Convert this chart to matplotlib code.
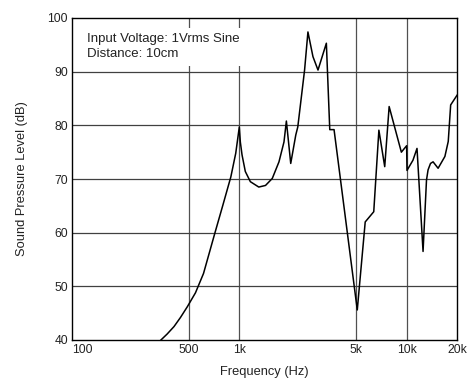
import matplotlib
matplotlib.use("Agg")
import matplotlib.pyplot as plt
import numpy as np

plt.rcParams['font.family'] = ['Liberation Sans', 'DejaVu Sans']

# frequency response
freq = [340, 370, 407, 445, 489, 547, 611, 653, 714, 797, 890, 952, 1000,
        1014, 1038, 1086, 1164, 1307, 1434, 1574, 1726, 1849, 1911,
        2029, 2175, 2236, 2455, 2571, 2755, 2953, 3313, 3472, 3683,
        5070, 5655, 6360, 6826, 7397, 7861, 9300, 10000, 10050, 10910,
        11535, 12535, 13144, 13430, 13890, 14390, 15420, 16930, 17730, 18330,
        20000]
spl = [40.0, 41.1, 42.5, 44.2, 46.2, 48.8, 52.4, 55.6, 59.9, 65.1, 70.4, 74.8, 79.7,
       76.9, 74.5, 71.4, 69.5, 68.5, 68.8, 70.1, 73.2, 76.9, 80.8,
       72.9, 78.2, 79.7, 90.3, 97.4, 92.8, 90.3, 95.3, 79.2, 79.2,
       45.6, 62.0, 63.9, 79.1, 72.3, 83.5, 75.0, 76.2, 71.6, 73.5,
       75.7, 56.5, 69.8, 71.7, 72.9, 73.2, 72.0, 74.2, 77.0, 83.8,
       85.6]

xticks = [100, 500, 1000, 5000, 10000, 20000]
xlabels = ['100', '500', '1k', '5k', '10k', '20k']
yticks = [40, 50, 60, 70, 80, 90, 100]

fig = plt.figure(figsize=(4.73, 3.78), dpi=100)
ax = fig.add_axes([72 / 473, 1 - 340 / 378, 385 / 473, 322 / 378])

ax.set_xscale('log')
ax.set_xlim(100, 20000)
ax.set_ylim(40, 100)

# grid lines
for f in [500, 1000, 5000, 10000]:
    ax.axvline(f, color='#505050', lw=0.9, zorder=1)
for v in [50, 60, 70, 80, 90]:
    ax.axhline(v, color='#404040', lw=0.9, zorder=1)

ax.plot(freq, spl, color='black', lw=1.1, zorder=3)

ax.set_xticks(xticks)
ax.set_xticklabels(xlabels, fontsize=8.7)
ax.xaxis.set_minor_locator(plt.NullLocator())
ax.get_xticklabels()[0].set_ha('left')
ax.set_yticks(yticks)
ax.set_yticklabels([str(v) for v in yticks], fontsize=8.7)
ax.tick_params(length=0, pad=3, colors='#222222')

for s in ax.spines.values():
    s.set_color('black')
    s.set_linewidth(1.0)

ax.set_xlabel('Frequency (Hz)', fontsize=9.3, color='#222222')
ax.set_ylabel('Sound Pressure Level (dB)', fontsize=9.3, color='#222222')
ax.xaxis.set_label_coords(0.5, -0.08)
ax.yaxis.set_label_coords(-0.115, 0.5)

ax.text(0.04, 0.953, 'Input Voltage: 1Vrms Sine\nDistance: 10cm',
        transform=ax.transAxes, fontsize=9.5, va='top', ha='left',
        color='#222222', linespacing=1.37, zorder=4,
        bbox=dict(facecolor='white', edgecolor='none', pad=4))

fig.savefig('out.png', dpi=100)
